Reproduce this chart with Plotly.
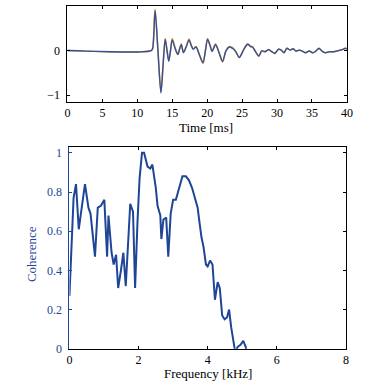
import plotly.graph_objects as go

# ---------------- data ----------------
time_ms = [0, 12.0, 12.2, 12.54, 12.95, 13.38, 13.7, 13.99, 14.25, 14.5, 14.75, 15.0,
           15.4, 15.8, 16.05, 16.3, 16.6, 17.0, 17.4, 17.7, 18.0, 18.4, 18.9, 19.4,
           19.75, 20.05, 20.4, 20.7, 21.2, 21.7, 22.2, 22.7, 23.2, 23.7, 24.1, 24.6,
           25.3, 25.8, 26.2, 26.5, 26.9, 27.4, 27.8, 28.3, 28.8, 29.2, 29.7, 30.2,
           30.6, 31.0, 31.4, 31.9, 32.3, 32.7, 33.2, 33.7, 34.1, 34.6, 35.1, 35.5,
           36.0, 36.5, 36.9, 37.4, 38.3, 39.3, 39.8, 40.0]
signal_blue = [0, 0, 0.05, 0.90, 0.0, -0.95, -0.30, 0.25, 0.0, -0.24, 0.0, 0.24,
               0.05, -0.09, 0.03, 0.13, -0.05, 0.08, 0.24, 0.12, 0.03, 0.08, -0.10, -0.27,
               0.0, 0.25, 0.12, -0.02, 0.13, -0.05, -0.24, 0.0, 0.08, 0.04, -0.03, -0.15,
               0.04, 0.14, 0.09, 0.08, -0.02, -0.12, -0.01, -0.02, 0.02, -0.02, -0.06, 0.03,
               0.01, -0.05, 0.05, 0.01, 0.04, -0.01, 0.01, -0.02, -0.05, -0.01, -0.05, -0.02,
               0.05, -0.02, -0.05, -0.03, -0.02, 0.02, 0.05, 0.03]
signal_orange = [0, 0, 0.05, 0.93, 0.0, -0.93, -0.28, 0.27, 0.02, -0.22, 0.01, 0.27,
                 0.07, -0.08, 0.04, 0.15, -0.04, 0.10, 0.26, 0.13, 0.04, 0.09, -0.10, -0.29,
                 0.0, 0.27, 0.13, -0.01, 0.15, -0.04, -0.26, 0.0, 0.09, 0.06, -0.02, -0.16,
                 0.05, 0.15, 0.10, 0.08, -0.02, -0.13, -0.01, -0.03, 0.02, -0.02, -0.07, 0.03,
                 0.01, -0.05, 0.05, 0.01, 0.04, -0.01, 0.01, -0.02, -0.05, -0.01, -0.05, -0.02,
                 0.04, -0.02, -0.05, -0.03, -0.02, 0.02, 0.05, 0.03]

freq_khz = [0.0, 0.05, 0.12, 0.19, 0.27, 0.34, 0.45, 0.55, 0.61, 0.74, 0.82, 0.91,
            1.01, 1.09, 1.13, 1.22, 1.28, 1.35, 1.41, 1.49, 1.56, 1.63, 1.70, 1.76,
            1.84, 1.90, 1.97, 2.03, 2.10, 2.16, 2.26, 2.34, 2.40, 2.50, 2.55, 2.63,
            2.66, 2.72, 2.80, 2.86, 2.93, 3.00, 3.08, 3.15, 3.27, 3.37, 3.46, 3.55,
            3.65, 3.71, 3.76, 3.82, 3.88, 3.95, 4.00, 4.07, 4.14, 4.21, 4.29, 4.35,
            4.42, 4.49, 4.56, 4.62, 4.68, 4.76, 4.80, 4.87, 4.95, 5.03, 5.10, 5.15]
coherence = [0.27, 0.50, 0.77, 0.84, 0.61, 0.70, 0.84, 0.72, 0.69, 0.47, 0.72, 0.73,
             0.76, 0.47, 0.68, 0.49, 0.43, 0.48, 0.31, 0.40, 0.49, 0.32, 0.52, 0.74,
             0.70, 0.31, 0.65, 0.87, 1.00, 1.00, 0.93, 0.92, 0.94, 0.82, 0.73, 0.68,
             0.56, 0.66, 0.67, 0.47, 0.69, 0.76, 0.76, 0.80, 0.88, 0.88, 0.86, 0.82,
             0.76, 0.72, 0.65, 0.57, 0.52, 0.43, 0.42, 0.45, 0.43, 0.25, 0.34, 0.31,
             0.17, 0.15, 0.16, 0.20, 0.11, 0.02, -0.02, 0.01, 0.02, 0.04, 0.01, -0.03]

top_x_ticks = [0, 5, 10, 15, 20, 25, 30, 35, 40]
top_y_ticks = [-1, 0, 1]
bot_x_ticks = [0, 2, 4, 6, 8]
bot_y_ticks = [0, 0.2, 0.4, 0.6, 0.8, 1]
bot_y_labels = ["0", "0.2", "0.4", "0.6", "0.8", "1"]

# ---------------- figure ----------------
W, H = 390, 392
FONT = "Liberation Serif"
BLUE = "#1f4597"
ORANGE = "#e3a33a"
SIGBLUE = "#34509c"

def px(x):
    return x / W

def py(y):
    return 1 - y / H

fig = go.Figure()
fig.add_trace(go.Scatter(x=time_ms, y=signal_orange, mode="lines", line=dict(color=ORANGE, width=1.6, shape="spline", smoothing=0.8),
                         xaxis="x", yaxis="y", showlegend=False))
fig.add_trace(go.Scatter(x=time_ms, y=signal_blue, mode="lines", line=dict(color=SIGBLUE, width=1.4, shape="spline", smoothing=0.8),
                         xaxis="x", yaxis="y", showlegend=False))
fig.add_trace(go.Scatter(x=freq_khz, y=coherence, mode="lines", line=dict(color=BLUE, width=2),
                         xaxis="x2", yaxis="y2", showlegend=False))

tickfont = dict(family=FONT, size=12, color="black")
common = dict(showgrid=False, zeroline=False, showline=True, linecolor="black", linewidth=1,
              ticks="inside", ticklen=3, tickcolor="black", tickfont=tickfont)

fig.update_layout(
    width=W, height=H, margin=dict(l=0, r=0, t=0, b=0),
    paper_bgcolor="white", plot_bgcolor="white",
    font=dict(family=FONT, size=12, color="black"),
    xaxis=dict(domain=[px(66), px(352)], anchor="y", range=[0, 40], tickvals=top_x_ticks,
               mirror="ticks", **common),
    yaxis=dict(domain=[py(103), py(5)], anchor="x", range=[-1.15, 1.0], tickvals=top_y_ticks,
               mirror="ticks", ticklabelstandoff=4, **common),
    xaxis2=dict(domain=[px(68), px(351)], anchor="y2", range=[0, 8], tickvals=bot_x_ticks,
                mirror="ticks", **common),
    yaxis2=dict(domain=[py(355), py(149)], anchor="x2", range=[0, 1.03], tickvals=bot_y_ticks,
                ticktext=bot_y_labels, showgrid=False, zeroline=False, showline=True,
                linecolor=BLUE, linewidth=1, ticks="inside", ticklen=3, tickcolor=BLUE,
                tickfont=dict(family=FONT, size=12, color=BLUE), ticklabelstandoff=4),
    yaxis3=dict(domain=[py(355), py(149)], anchor="x2", overlaying="y2", side="right",
                range=[0, 1.03], tickvals=bot_y_ticks, showticklabels=False, showgrid=False,
                zeroline=False, showline=True, linecolor="black", linewidth=1, ticks="inside",
                ticklen=3, tickcolor="black"),
)

ann = dict(xref="paper", yref="paper", showarrow=False, xanchor="center", yanchor="middle")
fig.add_annotation(text="Time [ms]", x=px(208), y=py(129),
                   font=dict(family=FONT, size=13, color="black"), **ann)
fig.add_annotation(text="Frequency [kHz]", x=px(210), y=py(380),
                   font=dict(family=FONT, size=13, color="black"), **ann)
fig.add_annotation(text="Coherence", x=px(29), y=py(258), textangle=-90,
                   font=dict(family=FONT, size=13, color=BLUE), **ann)

# dummy trace so yaxis3 is drawn
fig.add_trace(go.Scatter(x=[None], y=[None], xaxis="x2", yaxis="y3", showlegend=False))

fig.write_html("out.html", config={"displayModeBar": False},
               post_script="document.body.style.margin='0';document.body.style.overflow='hidden';")
